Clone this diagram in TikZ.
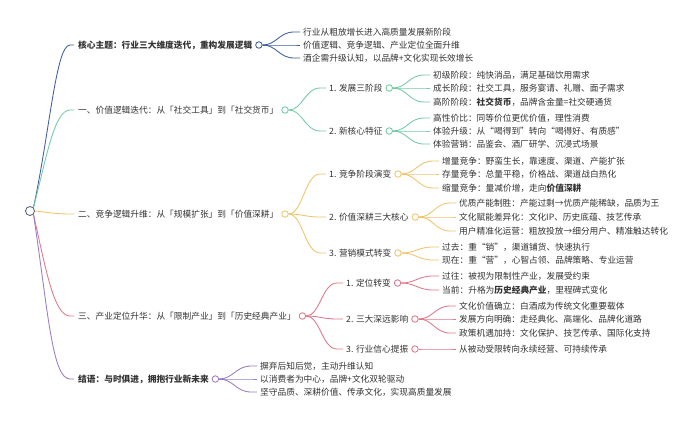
\documentclass[tikz,border=0pt]{standalone}
\usepackage{fontspec}
\newfontfamily\cjk{Noto Sans CJK SC}
\usetikzlibrary{calc}
\definecolor{txtc}{HTML}{333333}
\definecolor{cblue}{HTML}{3F5E9E}
\definecolor{cteal}{HTML}{72CBA6}
\definecolor{corange}{HTML}{F0C46C}
\definecolor{cred}{HTML}{E0788A}
\definecolor{cpurple}{HTML}{9A7CC4}
\definecolor{croot}{HTML}{56627A}
\tikzset{
  tx/.style={anchor=west, inner sep=0pt, text=txtc, font=\cjk\fontsize{8.7}{10}\selectfont},
  tb/.style={tx, font=\cjk\bfseries\fontsize{8.7}{10}\selectfont},
  knob/.style={circle, draw=#1, fill=white, line width=0.85pt, minimum size=6.5pt, inner sep=0pt},
  link/.style={draw=#1, line width=0.85pt},
}
\newcommand\lnk[3]{\draw[link=#1] (#2.east) .. controls ($(#2.east)+(14,0)$) and ($(#3.west)+(-24,0)$) .. ($(#3.west)+(-9,0)$) -- ($(#3.west)+(-3,0)$);}
\newcommand\knb[3]{\node[knob=#1] (#2) at ($(#3.east)+(6.5,0)$) {};}
\begin{document}
\begin{tikzpicture}[x=1pt,y=-1pt]
\useasboundingbox[fill=white] (0,0) rectangle (692,423);
% root
\node[knob=croot, minimum size=9pt] (root) at (30,211) {};
% main branches
\node[tb] (m0) at (78,45) {核心主题：行业三大维度迭代，重构发展逻辑};
\node[tx] (m1) at (78,110) {一、价值逻辑迭代：从「社交工具」到「社交货币」};
\node[tx] (m2) at (78,214) {二、竞争逻辑升维：从「规模扩张」到「价值深耕」};
\node[tx] (m3) at (78,316) {三、产业定位升华：从「限制产业」到「历史经典产业」};
\node[tb] (m4) at (78,379) {结语：与时俱进，拥抱行业新未来};
\knb{cblue}{k0}{m0}
\knb{cteal}{k1}{m1}
\knb{corange}{k2}{m2}
\knb{cred}{k3}{m3}
\knb{cpurple}{k4}{m4}
% root connectors
\draw[link=cblue] (root.north east) .. controls (50,130) and (56,45) .. ($(m0.west)+(-8,0)$) -- ($(m0.west)+(-4,0)$);
\draw[link=cteal] (root.north east) .. controls (46,160) and (54,110) .. ($(m1.west)+(-8,0)$) -- ($(m1.west)+(-4,0)$);
\draw[link=corange] (root.east) .. controls (45,212) and (55,214) .. ($(m2.west)+(-8,0)$) -- ($(m2.west)+(-4,0)$);
\draw[link=cred] (root.south east) .. controls (46,270) and (54,316) .. ($(m3.west)+(-8,0)$) -- ($(m3.west)+(-4,0)$);
\draw[link=cpurple] (root.south east) .. controls (48,310) and (52,379) .. ($(m4.west)+(-8,0)$) -- ($(m4.west)+(-4,0)$);
% core theme leaves
\node[tx] (a1) at (303,32) {行业从粗放增长进入高质量发展新阶段};
\node[tx] (a2) at (303,45) {价值逻辑、竞争逻辑、产业定位全面升维};
\node[tx] (a3) at (303,58) {酒企需升级认知，以品牌+文化实现长效增长};
\lnk{cblue}{k0}{a1}\lnk{cblue}{k0}{a2}\lnk{cblue}{k0}{a3}
% branch 1
\node[tx] (b1) at (329,88) {1. 发展三阶段};
\node[tx] (b2) at (329,131) {2. 新核心特征};
\knb{cteal}{kb1}{b1}\knb{cteal}{kb2}{b2}
\lnk{cteal}{k1}{b1}\lnk{cteal}{k1}{b2}
\node[tx] (b11) at (433,75) {初级阶段：纯快消品，满足基础饮用需求};
\node[tx] (b12) at (433,88) {成长阶段：社交工具，服务宴请、礼赠、面子需求};
\node[tx] (b13) at (433,102) {高阶阶段：{\bfseries 社交货币}，品牌含金量=社交硬通货};
\lnk{cteal}{kb1}{b11}\lnk{cteal}{kb1}{b12}\lnk{cteal}{kb1}{b13}
\node[tx] (b21) at (433,118) {高性价比：同等价位更优价值，理性消费};
\node[tx] (b22) at (433,131) {体验升级：从“喝得到”转向“喝得好、有质感”};
\node[tx] (b23) at (433,144) {体验营销：品鉴会、酒厂研学、沉浸式场景};
\lnk{cteal}{kb2}{b21}\lnk{cteal}{kb2}{b22}\lnk{cteal}{kb2}{b23}
% branch 2
\node[tx] (c1) at (329,174) {1. 竞争阶段演变};
\node[tx] (c2) at (329,217) {2. 价值深耕三大核心};
\node[tx] (c3) at (329,253) {3. 营销模式转变};
\knb{corange}{kc1}{c1}\knb{corange}{kc2}{c2}\knb{corange}{kc3}{c3}
\lnk{corange}{k2}{c1}\lnk{corange}{k2}{c2}\lnk{corange}{k2}{c3}
\node[tx] (c11) at (442,161) {增量竞争：野蛮生长，靠速度、渠道、产能扩张};
\node[tx] (c12) at (442,174) {存量竞争：总量平稳，价格战、渠道战白热化};
\node[tx] (c13) at (442,188) {缩量竞争：量减价增，走向{\bfseries 价值深耕}};
\lnk{corange}{kc1}{c11}\lnk{corange}{kc1}{c12}\lnk{corange}{kc1}{c13}
\node[tx] (c21) at (459,203) {优质产能制胜：产能过剩→优质产能稀缺，品质为王};
\node[tx] (c22) at (459,217) {文化赋能差异化：文化IP、历史底蕴、技艺传承};
\node[tx] (c23) at (459,231) {用户精准化运营：粗放投放→细分用户、精准触达转化};
\lnk{corange}{kc2}{c21}\lnk{corange}{kc2}{c22}\lnk{corange}{kc2}{c23}
\node[tx] (c31) at (442,247) {过去：重“销”，渠道铺货、快速执行};
\node[tx] (c32) at (442,260) {现在：重“营”，心智占领、品牌策略、专业运营};
\lnk{corange}{kc3}{c31}\lnk{corange}{kc3}{c32}
% branch 3
\node[tx] (d1) at (346,283) {1. 定位转变};
\node[tx] (d2) at (346,319) {2. 三大深远影响};
\node[tx] (d3) at (346,349) {3. 行业信心提振};
\knb{cred}{kd1}{d1}\knb{cred}{kd2}{d2}\knb{cred}{kd3}{d3}
\lnk{cred}{k3}{d1}\lnk{cred}{k3}{d2}\lnk{cred}{k3}{d3}
\node[tx] (d11) at (442,276) {过往：被视为限制性产业，发展受约束};
\node[tx] (d12) at (442,290) {当前：升格为{\bfseries 历史经典产业}，里程碑式变化};
\lnk{cred}{kd1}{d11}\lnk{cred}{kd1}{d12}
\node[tx] (d21) at (459,306) {文化价值确立：白酒成为传统文化重要载体};
\node[tx] (d22) at (459,319) {发展方向明确：走经典化、高端化、品牌化道路};
\node[tx] (d23) at (459,333) {政策机遇加持：文化保护、技艺传承、国际化支持};
\lnk{cred}{kd2}{d21}\lnk{cred}{kd2}{d22}\lnk{cred}{kd2}{d23}
\node[tx] (d31) at (459,349) {从被动受限转向永续经营、可持续传承};
\lnk{cred}{kd3}{d31}
% conclusion
\node[tx] (e1) at (260,366) {摒弃后知后觉，主动升维认知};
\node[tx] (e2) at (260,379) {以消费者为中心，品牌+文化双轮驱动};
\node[tx] (e3) at (260,392) {坚守品质、深耕价值、传承文化，实现高质量发展};
\lnk{cpurple}{k4}{e1}\lnk{cpurple}{k4}{e2}\lnk{cpurple}{k4}{e3}
\end{tikzpicture}
\end{document}
